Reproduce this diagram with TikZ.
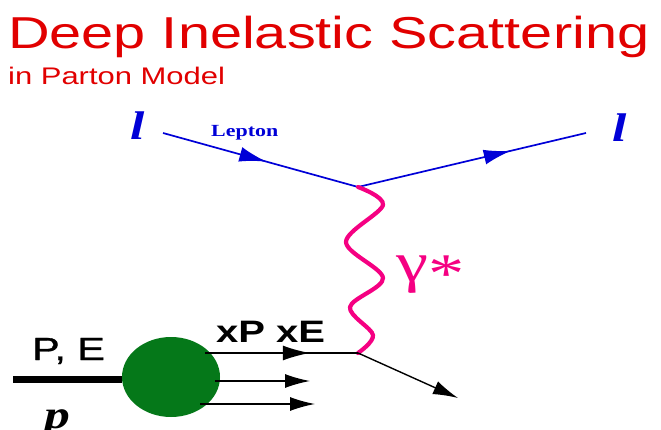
\documentclass[tikz,border=0pt]{standalone}
\usepackage{fontspec}
\usepackage{graphicx}
\setmainfont{Liberation Serif}
\newfontfamily\arialf{Liberation Sans}
\newfontfamily\arialmed{Liberation Sans}[FakeBold=0.9]
\usetikzlibrary{arrows.meta,decorations.markings,shapes.geometric}
\definecolor{titlered}{RGB}{225,0,0}
\definecolor{lepblue}{RGB}{0,0,215}
\definecolor{photonpink}{RGB}{245,0,130}
\definecolor{hadgreen}{RGB}{5,120,25}
\newcommand{\hstretch}[1]{\scalebox{1.29}[1]{#1}}
\begin{document}
\begin{tikzpicture}[x=1pt,y=-1pt,
  txt/.style={inner sep=0pt, anchor=base west},
  lepline/.style={lepblue, line width=1.7pt},
  quark/.style={black, line width=1.4pt},
  tipA/.style={-{Latex[length=25pt,width=14pt]}},
  midarrow/.style 2 args={postaction={decorate}, decoration={markings,
      mark=at position #1 with {\arrow[#2]{Latex[length=27pt,width=15pt]}}}},
  photon/.style={photonpink, line width=4.2pt, line join=round, line cap=round},
]
\useasboundingbox (0,0) rectangle (661,430);

% titles
\node[txt, titlered] (title) at (8,49) {\hstretch{\arialf\fontsize{44.7}{50}\selectfont Deep Inelastic Scattering}};
\node[txt, titlered] (subtitle) at (8,85) {\hstretch{\arialf\fontsize{24}{28}\selectfont in Parton Model}};

% lepton labels
\node[txt, lepblue] (lin) at (130,140) {\hstretch{\fontsize{40}{44}\selectfont\bfseries\itshape l}};
\node[txt, lepblue] (lout) at (612,142) {\hstretch{\fontsize{40}{44}\selectfont\bfseries\itshape l}};
\node[txt, lepblue] (leplabel) at (211,137) {\hstretch{\fontsize{17}{20}\selectfont\bfseries Lepton}};

% coordinates
\coordinate (a) at (163,133);
\coordinate (vtx) at (358,187);
\coordinate (b) at (586,133);
\coordinate (qv) at (358,353);
\coordinate (qout) at (458,398);

% lepton lines
\draw[lepline, midarrow={0.53}{}] (a) -- (vtx);
\draw[lepline, midarrow={0.67}{}] (vtx) -- (b);

% photon
\draw[photon] plot[smooth, tension=0.55] coordinates {(vtx) (383,205) (346,242) (383,278) (350,307) (373,335) (qv)};
\node[txt, photonpink] (gam) at (396,281) {\hstretch{\fontsize{56}{60}\selectfont γ\raisebox{-12pt}{*}}};

% hadron
\node[ellipse, fill=hadgreen, minimum width=98pt, minimum height=80pt, inner sep=0pt] (had) at (171,377) {};
\coordinate (pin) at (13,379);
\draw[black, line width=7pt] (pin) -- (had.west |- pin);
\node[txt] (pe) at (32,360) {\hstretch{\arialmed\fontsize{32}{36}\selectfont P, E}};
\node[txt] (xpxe) at (216,342) {\hstretch{\arialf\fontsize{31}{36}\selectfont\bfseries xP xE}};
\node[txt] (plab) at (44,428) {\hstretch{\fontsize{40}{44}\selectfont\bfseries\itshape p}};

% partons
\coordinate (q1s) at (205,353);
\coordinate (q2s) at (215,381);
\coordinate (q2e) at (310,381);
\coordinate (q3s) at (200,404);
\coordinate (q3e) at (315,404);
\draw[quark, midarrow={0.685}{}] (q1s) -- (qv);
\draw[quark, tipA] (q2s) -- (q2e);
\draw[quark, tipA] (q3s) -- (q3e);
\draw[quark, tipA] (qv) -- (qout);
\end{tikzpicture}
\end{document}
